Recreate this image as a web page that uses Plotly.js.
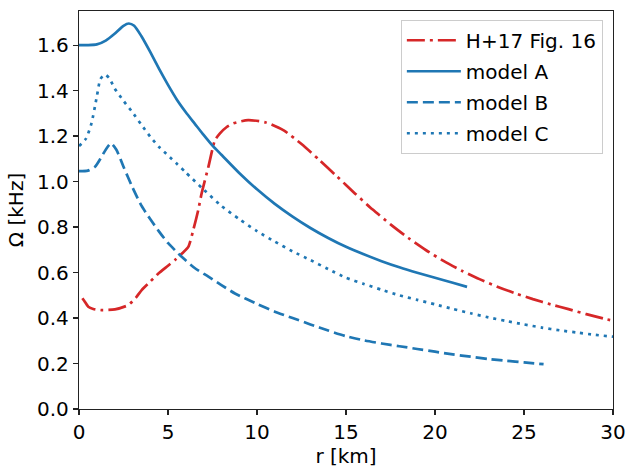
<!DOCTYPE html>
<html>
<head>
<meta charset="utf-8">
<script src="https://cdn.plot.ly/plotly-3.0.1.min.js"></script>
<style>html,body{margin:0;padding:0;background:#fff;}#chart{width:627px;height:471px;}</style>
</head>
<body>
<div id="chart"></div>
<script>
// H+17 Fig. 16 (red dash-dot)
const h17_r = [0.19, 0.3, 0.52, 0.8, 1.27, 2.02, 2.77, 3.2, 3.52, 4.0, 4.46, 5.0, 5.39, 5.8, 6.14, 6.42, 6.70, 6.89, 7.27, 7.64, 7.92, 8.3, 8.67, 9.5, 10.5, 11.5, 12.5, 13.5, 14.5, 15.5, 16.5, 17.5, 18.5, 19.5, 20.5, 21.5, 22.5, 23.5, 24.5, 25.5, 26.5, 27.5, 28.5, 29.5, 30.0];
const h17_omega = [0.487, 0.475, 0.45, 0.44, 0.435, 0.438, 0.457, 0.49, 0.523, 0.56, 0.596, 0.63, 0.655, 0.685, 0.713, 0.787, 0.875, 0.948, 1.065, 1.182, 1.212, 1.24, 1.256, 1.270, 1.260, 1.225, 1.165, 1.095, 1.022, 0.948, 0.877, 0.812, 0.752, 0.698, 0.650, 0.608, 0.571, 0.538, 0.509, 0.483, 0.460, 0.439, 0.417, 0.397, 0.388];

// model A (solid)
const modelA_r = [0, 0.5, 1.0, 1.5, 2.0, 2.5, 2.8, 3.1, 3.5, 4.0, 4.5, 5.0, 5.5, 6.0, 6.5, 7.0, 7.5, 8.0, 9.0, 10.0, 11.0, 12.0, 13.0, 14.0, 15.0, 16.0, 17.0, 18.0, 19.0, 20.0, 21.0, 21.8];
const modelA_omega = [1.600, 1.600, 1.603, 1.620, 1.650, 1.685, 1.695, 1.685, 1.640, 1.570, 1.495, 1.425, 1.360, 1.305, 1.255, 1.205, 1.158, 1.118, 1.038, 0.966, 0.902, 0.846, 0.796, 0.752, 0.713, 0.680, 0.650, 0.623, 0.599, 0.577, 0.555, 0.537];

// model B (dashed)
const modelB_r = [0, 0.5, 0.9, 1.2, 1.5, 1.8, 2.1, 2.5, 3.0, 3.5, 4.0, 4.5, 5.0, 5.77, 6.5, 7.27, 8.0, 8.76, 10.0, 11.0, 12.0, 13.0, 14.0, 15.0, 16.0, 17.0, 18.0, 19.0, 20.0, 21.0, 22.0, 23.0, 24.0, 25.0, 26.1];
const modelB_omega = [1.046, 1.048, 1.065, 1.100, 1.140, 1.168, 1.140, 1.065, 0.975, 0.895, 0.835, 0.780, 0.730, 0.669, 0.620, 0.582, 0.545, 0.508, 0.462, 0.428, 0.400, 0.372, 0.345, 0.320, 0.302, 0.288, 0.276, 0.264, 0.252, 0.240, 0.230, 0.220, 0.212, 0.205, 0.197];

// model C (dotted)
const modelC_r = [0, 0.4, 0.7, 1.0, 1.2, 1.45, 1.7, 2.0, 2.5, 3.0, 3.5, 4.0, 4.5, 5.0, 5.5, 6.0, 7.0, 8.0, 9.0, 10.0, 11.0, 12.0, 13.0, 14.0, 15.0, 16.0, 17.0, 18.0, 19.0, 20.0, 21.0, 22.0, 23.0, 24.0, 25.0, 26.0, 27.0, 28.0, 29.0, 30.0];
const modelC_omega = [1.156, 1.190, 1.256, 1.373, 1.450, 1.471, 1.455, 1.410, 1.355, 1.305, 1.250, 1.198, 1.152, 1.115, 1.078, 1.040, 0.965, 0.893, 0.835, 0.782, 0.736, 0.693, 0.655, 0.615, 0.577, 0.550, 0.524, 0.500, 0.480, 0.460, 0.440, 0.421, 0.403, 0.387, 0.372, 0.358, 0.346, 0.336, 0.326, 0.318];

const seriesNames = ['H+17 Fig. 16', 'model A', 'model B', 'model C'];
const xTicks = [0, 5, 10, 15, 20, 25, 30];
const yTicks = [0.0, 0.2, 0.4, 0.6, 0.8, 1.0, 1.2, 1.4, 1.6];

const BLUE = '#1f77b4', RED = '#d62728', LW = 2.7;
const FONT = 'DejaVu Sans, sans-serif';
const FS = 20;

const traces = [
  {x: h17_r, y: h17_omega, name: seriesNames[0], line: {color: RED, width: LW, dash: '18px,5px,3px,5px'}},
  {x: modelA_r, y: modelA_omega, name: seriesNames[1], line: {color: BLUE, width: LW}},
  {x: modelB_r, y: modelB_omega, name: seriesNames[2], line: {color: BLUE, width: LW, dash: '11px,5px'}},
  {x: modelC_r, y: modelC_omega, name: seriesNames[3], line: {color: BLUE, width: LW, dash: '3px,5px'}}
].map((t, i) => Object.assign({type: 'scatter', mode: 'lines', legendgroup: 'g' + i}, t, {line: Object.assign({shape: 'spline', smoothing: 0.6}, t.line)}));

const axisCommon = {
  showgrid: false, zeroline: false, showline: true, mirror: true,
  linecolor: '#222', linewidth: 1.2, ticks: 'outside', ticklen: 5, tickwidth: 1.2, tickcolor: '#222',
  tickfont: {family: FONT, size: FS, color: '#000'}
};

const layout = {
  width: 627, height: 471,
  margin: {l: 79, r: 14, t: 11, b: 62},
  paper_bgcolor: '#fff', plot_bgcolor: '#fff',
  font: {family: FONT, size: FS, color: '#000'},
  xaxis: Object.assign({}, axisCommon, {
    range: [0, 30], tickvals: xTicks, ticktext: xTicks.map(String),
    title: {text: 'r [km]', font: {family: FONT, size: FS}, standoff: 4}
  }),
  yaxis: Object.assign({}, axisCommon, {
    range: [0, 1.75], tickvals: yTicks, ticktext: yTicks.map(v => v.toFixed(1)),
    title: {text: 'Ω [kHz]', font: {family: FONT, size: FS}, standoff: 8}
  }),
  showlegend: true,
  legend: {
    x: 0.981, xanchor: 'right', y: 0.978, yanchor: 'top',
    bgcolor: 'rgba(255,255,255,0.8)', bordercolor: '#cccccc', borderwidth: 1,
    font: {family: FONT, size: FS, color: '#000'},
    itemwidth: 54, traceorder: 'grouped', tracegroupgap: 2
  }
};

Plotly.newPlot('chart', traces, layout, {displayModeBar: false, staticPlot: true});
</script>
</body>
</html>
